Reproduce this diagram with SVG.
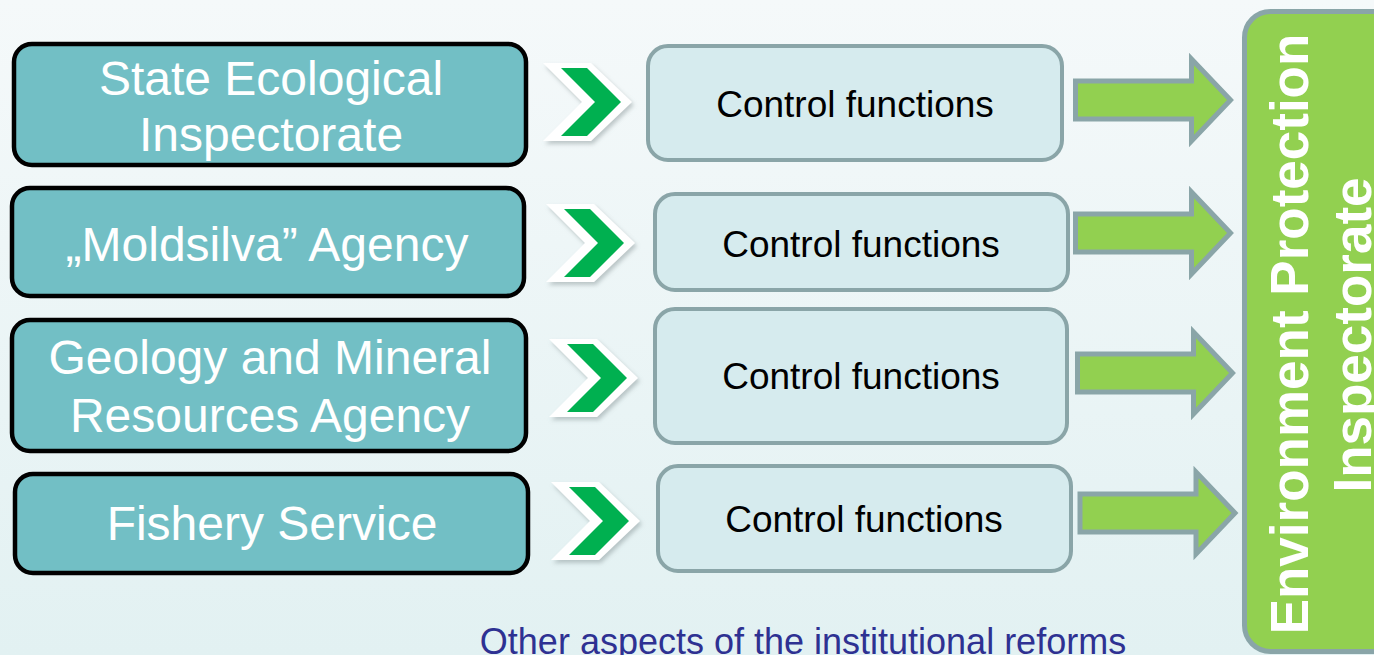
<svg xmlns="http://www.w3.org/2000/svg" xmlns:xlink="http://www.w3.org/1999/xlink" width="1374" height="655" viewBox="0 0 1374 655">
  <defs>
    <linearGradient id="bg" x1="0" y1="0" x2="0" y2="1">
      <stop offset="0" stop-color="#f5f9fa"/>
      <stop offset="1" stop-color="#e2f1f2"/>
    </linearGradient>
    <filter id="sh" x="-20%" y="-20%" width="150%" height="150%">
      <feDropShadow dx="2" dy="3" stdDeviation="2" flood-color="#7a8a8c" flood-opacity="0.45"/>
    </filter>
    <g id="chev">
      <polygon points="0,-39 48,-39 89,0 48,39 0,39 39,0" fill="#ffffff" filter="url(#sh)"/>
      <polygon points="18,-34 44,-34 78,0 44,34 18,34 52,0" fill="#00b050"/>
    </g>
    <path id="arr" d="M0,-19 H116 V-41 L155,0 L116,41 V19 H0 Z" fill="#92d050" stroke="#8aa5a8" stroke-width="5" stroke-linejoin="miter"/>
    <style>
      .src { fill: #72bfc5; stroke: #000000; stroke-width: 4.5; }
      .srct { font-family: "Liberation Sans", Arial, sans-serif; font-size: 48px; fill: #ffffff; text-anchor: middle; }
      .cf { fill: #d6ebee; stroke: #8aa5a8; stroke-width: 4; }
      .cft { font-family: "Liberation Sans", Arial, sans-serif; font-size: 37px; fill: #000000; text-anchor: middle; }
      .epi { fill: #92d050; stroke: #8aa5a8; stroke-width: 5; }
      .epit { font-family: "Liberation Sans", Arial, sans-serif; font-size: 53px; font-weight: bold; fill: #ffffff; text-anchor: middle; }
      .foot { font-family: "Liberation Sans", Arial, sans-serif; font-size: 36px; fill: #2e3192; text-anchor: middle; }
    </style>
  </defs>

  <rect x="0" y="0" width="1374" height="655" fill="url(#bg)"/>

  <g id="node-state-ecological">
    <rect class="src" x="14" y="44" width="512" height="121" rx="18"/>
    <text class="srct" x="271" y="95">State Ecological</text>
    <text class="srct" x="271" y="151">Inspectorate</text>
  </g>
  <g id="node-moldsilva">
    <rect class="src" x="12" y="188" width="512" height="108" rx="18"/>
    <text class="srct" x="267" y="261">„Moldsilva” Agency</text>
  </g>
  <g id="node-geology">
    <rect class="src" x="12" y="320" width="514" height="131" rx="18"/>
    <text class="srct" x="270" y="374">Geology and Mineral</text>
    <text class="srct" x="270" y="432">Resources Agency</text>
  </g>
  <g id="node-fishery">
    <rect class="src" x="15" y="474" width="513" height="99" rx="18"/>
    <text class="srct" x="272" y="540">Fishery Service</text>
  </g>

  <g id="node-cf1">
    <rect class="cf" x="648" y="46" width="414" height="114" rx="20"/>
    <text class="cft" x="855" y="117">Control functions</text>
  </g>
  <g id="node-cf2">
    <rect class="cf" x="655" y="194" width="413" height="96" rx="20"/>
    <text class="cft" x="861" y="257">Control functions</text>
  </g>
  <g id="node-cf3">
    <rect class="cf" x="655" y="309" width="412" height="134" rx="20"/>
    <text class="cft" x="861" y="389">Control functions</text>
  </g>
  <g id="node-cf4">
    <rect class="cf" x="658" y="466" width="413" height="105" rx="20"/>
    <text class="cft" x="864" y="532">Control functions</text>
  </g>

  <g id="node-epi">
    <rect class="epi" x="1244.5" y="11.5" width="200" height="640" rx="26"/>
    <text class="epit" transform="translate(1308,334) rotate(-90)">Environment Protection</text>
    <text class="epit" transform="translate(1371,335) rotate(-90)">Inspectorate</text>
  </g>

  <g id="connectors">
    <use xlink:href="#chev" transform="translate(543,102)"/>
    <use xlink:href="#chev" transform="translate(546,243)"/>
    <use xlink:href="#chev" transform="translate(549,378)"/>
    <use xlink:href="#chev" transform="translate(551,521)"/>
    <use xlink:href="#arr" transform="translate(1075.5,100)"/>
    <use xlink:href="#arr" transform="translate(1075.5,233)"/>
    <use xlink:href="#arr" transform="translate(1077.5,373)"/>
    <use xlink:href="#arr" transform="translate(1080,513)"/>
  </g>

  <text class="foot" x="803" y="654">Other aspects of the institutional reforms</text>
</svg>
